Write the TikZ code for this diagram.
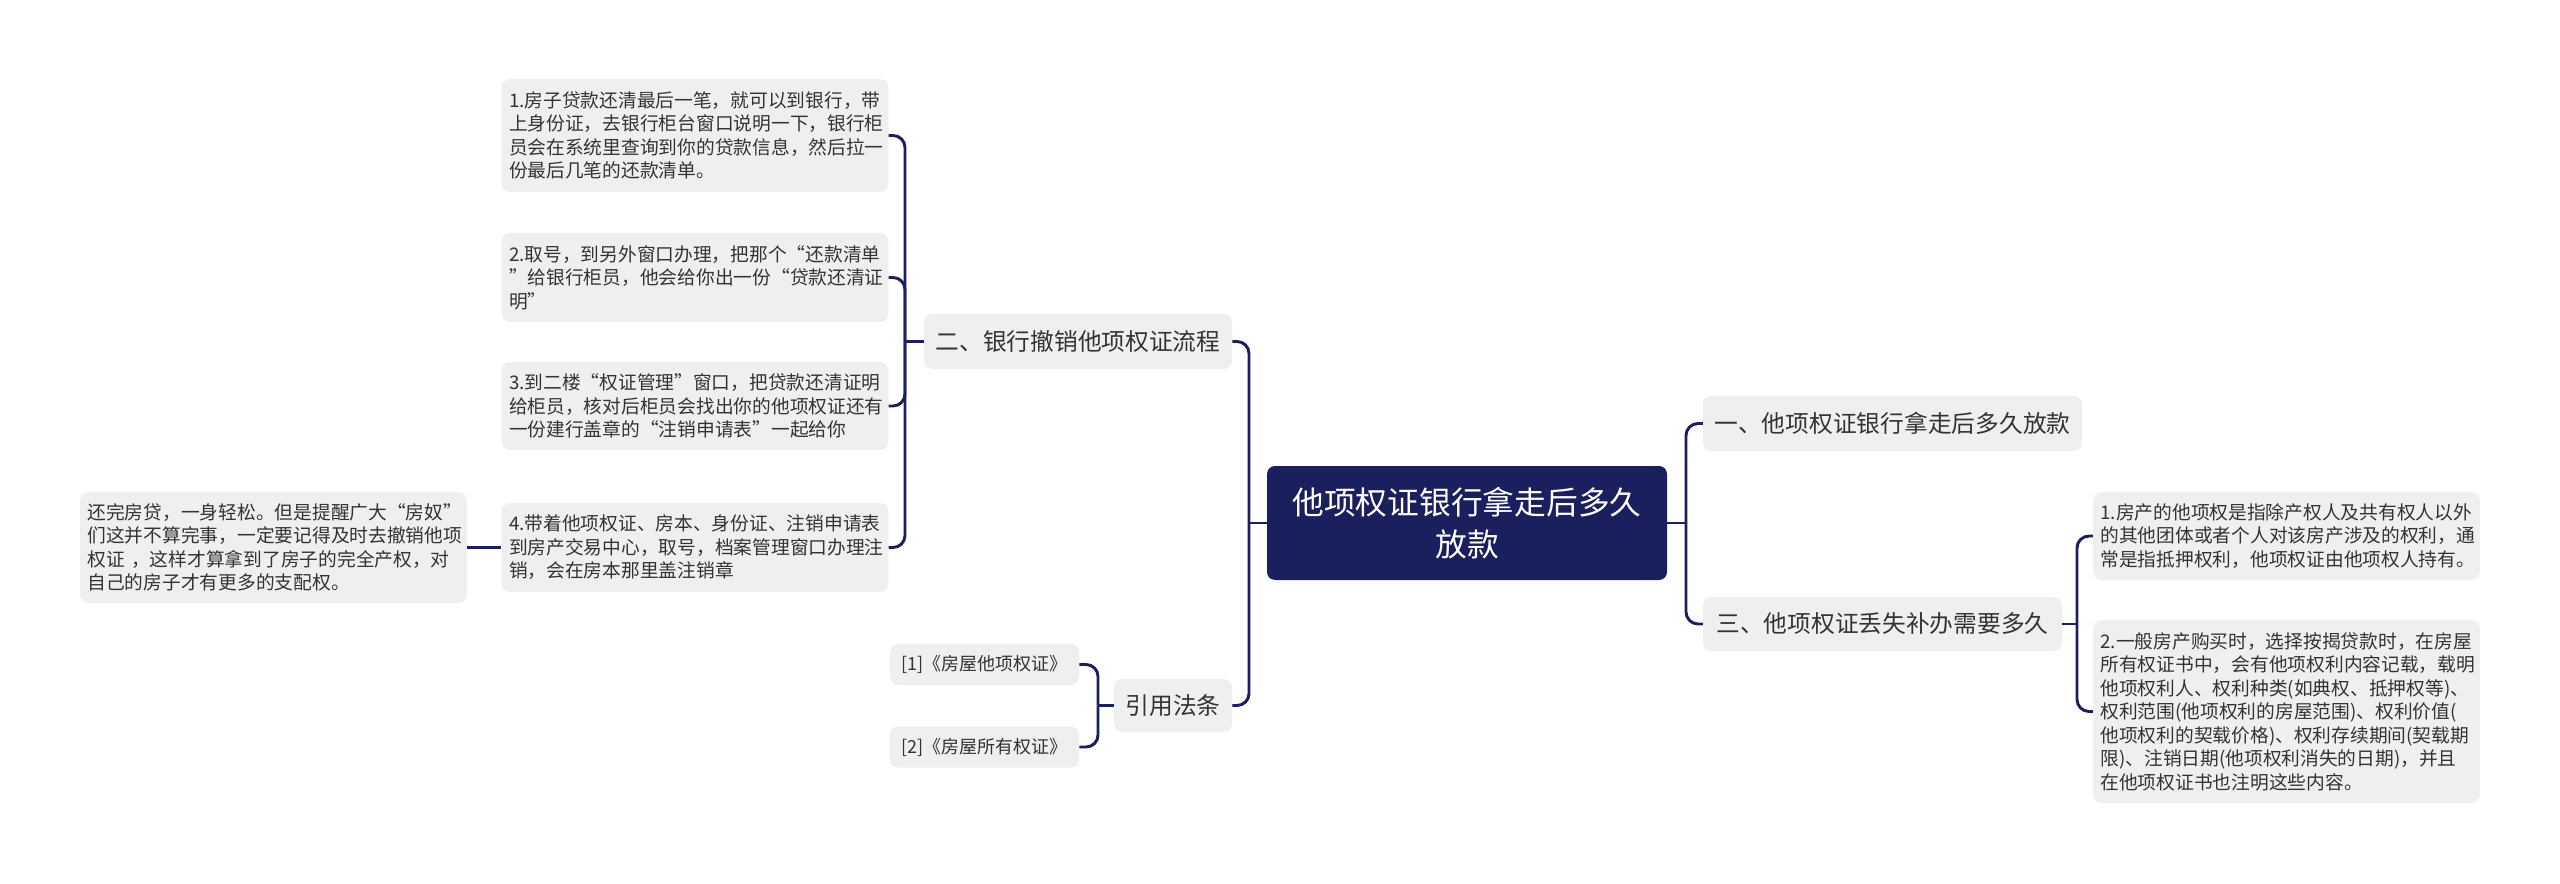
\documentclass[tikz,border=0pt]{standalone}
\usepackage{fontspec}
\setmainfont{Noto Sans CJK SC}
\definecolor{navy}{HTML}{1A1F5E}
\definecolor{boxgray}{HTML}{EFEFEF}
\definecolor{txt}{HTML}{333333}
\begin{document}
\begin{tikzpicture}[x=0.75pt,y=-0.75pt,
  leaf/.style={fill=boxgray, rounded corners=6pt, text=txt,
    font=\fontsize{14.05pt}{17.6pt}\selectfont, align=left,
    text width=279pt, inner xsep=5.5pt, inner ysep=0pt, anchor=center},
  branch/.style={fill=boxgray, rounded corners=6pt, text=txt,
    font=\fontsize{17.8pt}{22pt}\selectfont, align=center,
    inner sep=0pt, minimum height=41.25pt, anchor=center},
  refbox/.style={fill=boxgray, rounded corners=6pt, text=txt,
    font=\fontsize{13.5pt}{16pt}\selectfont, align=center,
    inner sep=0pt, minimum width=141.75pt, minimum height=30.75pt, anchor=center},
  rootbox/.style={fill=navy, rounded corners=6pt, text=white,
    font=\fontsize{23.8pt}{31.5pt}\selectfont, align=center,
    inner sep=0pt, minimum width=300pt, minimum height=85.5pt, anchor=center},
  conn/.style={draw=navy, line width=2.2pt, rounded corners=9pt}
]
\useasboundingbox (0,0) rectangle (2560,884);

% root
\node[rootbox] (root) at (1467,523) {他项权证银行拿走后多久\\放款};

% left branch
\node[branch, minimum width=231pt] (b2) at (1078,341.5) {二、银行撤销他项权证流程};
\node[leaf, minimum height=84.75pt] (i1) at (695,135.5) {1.房子贷款还清最后一笔，就可以到银行，带\\上身份证，去银行柜台窗口说明一下，银行柜\\员会在系统里查询到你的贷款信息，然后拉一\\份最后几笔的还款清单。};
\node[leaf, minimum height=66.75pt] (i2) at (695,277.5) {2.取号，到另外窗口办理，把那个“还款清单\\”给银行柜员，他会给你出一份“贷款还清证\\明”};
\node[leaf, minimum height=66pt] (i3) at (695,406) {3.到二楼“权证管理”窗口，把贷款还清证明\\给柜员，核对后柜员会找出你的他项权证还有\\一份建行盖章的“注销申请表”一起给你};
\node[leaf, minimum height=66.75pt] (i4) at (695,547.5) {4.带着他项权证、房本、身份证、注销申请表\\到房产交易中心，取号，档案管理窗口办理注\\销，会在房本那里盖注销章};
\node[leaf, minimum height=83.25pt] (note) at (273.5,547.5) {还完房贷，一身轻松。但是提醒广大“房奴”\\们这并不算完事，一定要记得及时去撤销他项\\权证 ，这样才算拿到了房子的完全产权，对\\自己的房子才有更多的支配权。};

\node[branch, minimum width=88.5pt, minimum height=39.75pt] (ref) at (1173,705.5) {引用法条};
\node[refbox] (rf1) at (984.5,664.5) {[1]《房屋他项权证》};
\node[refbox] (rf2) at (984.5,747) {[2]《房屋所有权证》};

% right branch
\node[branch, minimum width=284.25pt] (b1) at (1892.5,423.5) {一、他项权证银行拿走后多久放款};
\node[branch, minimum width=269.25pt, minimum height=40.5pt] (b3) at (1882.5,624) {三、他项权证丢失补办需要多久};
\node[leaf, minimum height=66pt] (r1) at (2286.5,536) {1.房产的他项权是指除产权人及共有权人以外\\的其他团体或者个人对该房产涉及的权利，通\\常是指抵押权利，他项权证由他项权人持有。};
\node[leaf, minimum height=137.25pt] (r2) at (2286.5,711.5) {2.一般房产购买时，选择按揭贷款时，在房屋\\所有权证书中，会有他项权利内容记载，载明\\他项权利人、权利种类(如典权、抵押权等)、\\权利范围(他项权利的房屋范围)、权利价值(\\他项权利的契载价格)、权利存续期间(契载期\\限)、注销日期(他项权利消失的日期)，并且\\在他项权证书也注明这些内容。};

% junction coordinates
\coordinate (jL) at (1249,523);
\coordinate (jR) at (1686,523);
\coordinate (j2) at (905,341.5);
\coordinate (jref) at (1098,705.5);
\coordinate (j3) at (2077,624);

% connectors
\draw[conn] (root.west) -- (jL);
\draw[conn] (jL) |- (b2.east);
\draw[conn] (jL) |- (ref.east);
\draw[conn] (root.east) -- (jR);
\draw[conn] (jR) |- (b1.west);
\draw[conn] (jR) |- (b3.west);
\draw[conn] (b2.west) -- (j2);
\draw[conn] (j2) |- (i1.east);
\draw[conn] (j2) |- (i2.east);
\draw[conn] (j2) |- (i3.east);
\draw[conn] (j2) |- (i4.east);
\draw[conn] (i4.west) -- (note.east);
\draw[conn] (ref.west) -- (jref);
\draw[conn] (jref) |- (rf1.east);
\draw[conn] (jref) |- (rf2.east);
\draw[conn] (b3.east) -- (j3);
\draw[conn] (j3) |- (r1.west);
\draw[conn] (j3) |- (r2.west);
\end{tikzpicture}
\end{document}
